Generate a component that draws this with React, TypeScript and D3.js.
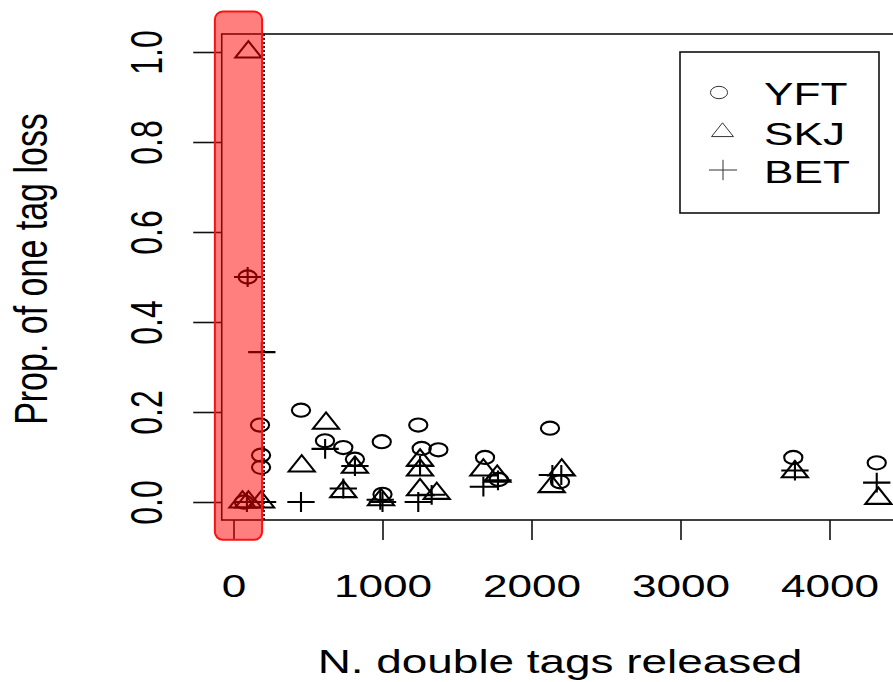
import React, { useEffect, useRef } from 'react';
import * as d3 from 'd3';

// N. double tags released / proportion with one tag lost, by species
const yftN = [70, 95, 178, 185, 185, 453, 614, 737, 815, 995, 1000, 1240, 1263, 1375, 1688, 1780, 2124, 2191, 3757, 4317];
const yftProp = [0.0, 0.5, 0.171, 0.104, 0.077, 0.204, 0.136, 0.121, 0.095, 0.134, 0.017, 0.171, 0.119, 0.116, 0.099, 0.05, 0.164, 0.045, 0.099, 0.087];

const skjN = [100, 60, 100, 185, 458, 621, 737, 815, 990, 1252, 1252, 1252, 1364, 1677, 1770, 2136, 2203, 3768, 4328];
const skjProp = [1.0, 0.0, 0.0, 0.0, 0.08, 0.175, 0.023, 0.077, 0.005, 0.093, 0.071, 0.027, 0.019, 0.071, 0.057, 0.034, 0.071, 0.067, 0.008];

const betN = [95, 190, 90, 195, 453, 615, 737, 815, 985, 1000, 1240, 1252, 1330, 1677, 1775, 2140, 2200, 3768, 4317];
const betProp = [0.5, 0.333, 0.0, 0.0, 0.0, 0.118, 0.03, 0.08, 0.005, 0.0, 0.0, 0.08, 0.016, 0.034, 0.048, 0.06, 0.06, 0.07, 0.043];

const xTicks = [0, 1000, 2000, 3000, 4000];
const yTicks = [0, 0.2, 0.4, 0.6, 0.8, 1.0];
const legendLabels = ['YFT', 'SKJ', 'BET'];
const cutoffN = 205;

const W = 893;
const H = 682;
const SX = 1.38; // the picture is stretched sideways
const FONT = '"Liberation Sans", Arial, sans-serif';

const App = () => {
  const ref = useRef<SVGSVGElement>(null);

  useEffect(() => {
    const svg = d3.select(ref.current);
    svg.selectAll('*').remove();
    svg.append('rect').attr('width', W).attr('height', H).attr('fill', '#fff');

    const x = d3.scaleLinear().domain([0, 4000]).range([233.5, 829.5]);
    const y = d3.scaleLinear().domain([0, 1]).range([502, 52]);

    const left = x(-79);
    const right = x(4460);
    const top = y(1.04);
    const bottom = y(-0.04);

    // plot box
    svg.append('rect')
      .attr('x', left).attr('y', top)
      .attr('width', right - left).attr('height', bottom - top)
      .attr('fill', 'none').attr('stroke', '#111').attr('stroke-width', 1.6);

    const xAxis = svg.append('g')
      .attr('transform', `translate(0,${bottom})`)
      .call(d3.axisBottom(x).tickValues(xTicks).tickSize(20).tickFormat(d3.format('d')));
    xAxis.select('.domain').remove();
    xAxis.selectAll('line').attr('stroke', '#111').attr('stroke-width', 1.6);
    xAxis.selectAll('text')
      .attr('y', 77).attr('dy', 0)
      .attr('transform', `scale(${SX},1)`)
      .attr('font-family', FONT).attr('font-size', 32).attr('fill', '#000');

    const yAxis = svg.append('g')
      .attr('transform', `translate(${left},0)`)
      .call(d3.axisLeft(y).tickValues(yTicks).tickSize(28.5).tickFormat(d3.format('.1f')));
    yAxis.select('.domain').remove();
    yAxis.selectAll('line').attr('stroke', '#111').attr('stroke-width', 1.6);
    yAxis.selectAll('text')
      .attr('x', null).attr('dy', 0)
      .attr('text-anchor', 'middle')
      .attr('transform', `translate(${162 - left},0) scale(${SX},1) rotate(-90)`)
      .attr('font-family', FONT).attr('font-size', 32).attr('fill', '#000');

    // axis titles
    svg.append('text')
      .attr('transform', `translate(560,673) scale(1.35,1)`)
      .attr('text-anchor', 'middle')
      .attr('font-family', FONT).attr('font-size', 34)
      .text('N. double tags released');
    svg.append('text')
      .attr('transform', `translate(47,269) scale(1.35,1) rotate(-90)`)
      .attr('text-anchor', 'middle')
      .attr('font-family', FONT).attr('font-size', 34)
      .text('Prop. of one tag loss');

    const s = 7; // symbol size before stretch
    const circlePath = (cx: number, cy: number, r: number) =>
      `M${cx - r * SX},${cy}a${r * SX},${r} 0 1,0 ${2 * r * SX},0a${r * SX},${r} 0 1,0 ${-2 * r * SX},0Z`;
    const trianglePath = (cx: number, cy: number, k: number) =>
      `M${cx},${cy - 1.555 * k}L${cx + 1.347 * k * SX},${cy + 0.778 * k}L${cx - 1.347 * k * SX},${cy + 0.778 * k}Z`;
    const plusPath = (cx: number, cy: number, k: number) =>
      `M${cx - 1.414 * k * SX},${cy}H${cx + 1.414 * k * SX}M${cx},${cy - 1.414 * k}V${cy + 1.414 * k}`;

    const marks = svg.append('g')
      .attr('fill', 'none').attr('stroke', '#000').attr('stroke-width', 2.1);

    marks.selectAll('path.yft')
      .data(d3.range(yftN.length))
      .join('path')
      .attr('class', 'yft')
      .attr('d', i => circlePath(x(yftN[i]), y(yftProp[i]), 6.6));

    marks.selectAll('path.skj')
      .data(d3.range(skjN.length))
      .join('path')
      .attr('class', 'skj')
      .attr('d', i => trianglePath(x(skjN[i]), y(skjProp[i]), s));

    marks.selectAll('path.bet')
      .data(d3.range(betN.length))
      .join('path')
      .attr('class', 'bet')
      .attr('d', i => plusPath(x(betN[i]), y(betProp[i]), s));

    // legend
    const lg = svg.append('g');
    lg.append('rect')
      .attr('x', 680).attr('y', 52).attr('width', 199).attr('height', 161)
      .attr('fill', '#fff').attr('stroke', '#111').attr('stroke-width', 1.6);
    const rowY = [92.5, 132, 170];
    const sym = lg.append('g').attr('fill', 'none').attr('stroke', '#333').attr('stroke-width', 1);
    sym.append('path').attr('d', circlePath(719, rowY[0], 6.2));
    sym.append('path').attr('d', trianglePath(722.5, rowY[1], 5.9));
    sym.append('path').attr('d', plusPath(723, rowY[2], 7.2));
    lg.selectAll('text')
      .data(legendLabels)
      .join('text')
      .attr('transform', (d, i) => `translate(764,${rowY[i] + 12.5}) scale(${SX},1)`)
      .attr('font-family', FONT).attr('font-size', 32)
      .text(d => d);

    // dotted cut-off line
    svg.append('line')
      .attr('x1', x(cutoffN)).attr('x2', x(cutoffN))
      .attr('y1', top).attr('y2', bottom)
      .attr('stroke', '#000').attr('stroke-width', 1.6)
      .attr('stroke-dasharray', '2,2');

    // red highlight band
    svg.append('rect')
      .attr('x', x(-125)).attr('y', y(1.09))
      .attr('width', x(192) - x(-125)).attr('height', y(-0.084) - y(1.09))
      .attr('rx', 8).attr('ry', 8)
      .attr('fill', 'rgba(255,0,0,0.5)')
      .attr('stroke', '#ff1010').attr('stroke-width', 2);
  }, []);

  return (
    <svg ref={ref} width={W} height={H} style={{ position: 'absolute', left: 0, top: 0 }}></svg>
  );
};

export default App;
